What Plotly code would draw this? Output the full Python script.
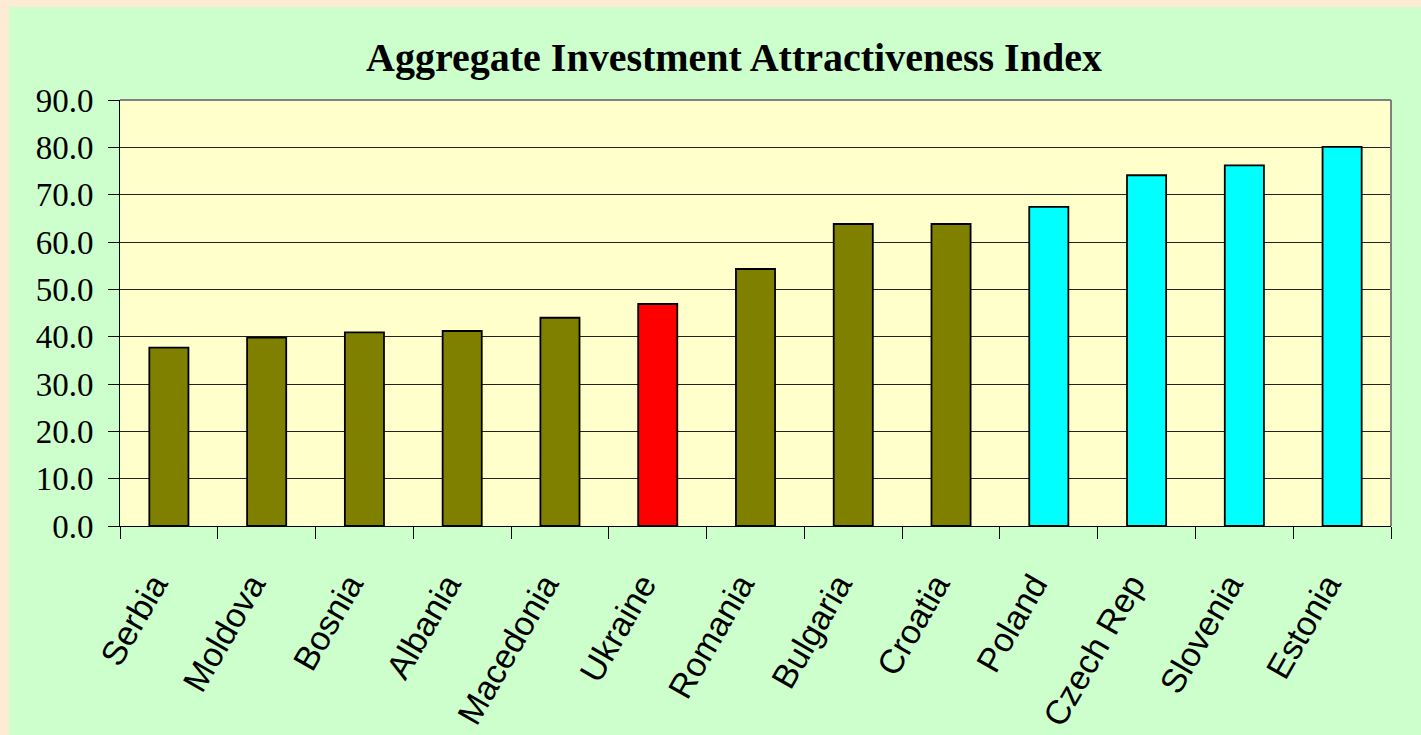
import plotly.graph_objects as go

countries = ["Serbia", "Moldova", "Bosnia", "Albania", "Macedonia", "Ukraine",
             "Romania", "Bulgaria", "Croatia", "Poland", "Czech Rep", "Slovenia", "Estonia"]
index_values = [37.7, 39.8, 40.9, 41.2, 44.0, 46.9, 54.3, 63.8, 63.8, 67.4, 74.1, 76.2, 80.1]
bar_colors = ["#808000"] * 5 + ["#FF0000"] + ["#808000"] * 3 + ["#00FFFF"] * 4
y_ticks = [0, 10, 20, 30, 40, 50, 60, 70, 80, 90]
y_tick_labels = [f"{v:.1f}" for v in y_ticks]
title_text = "Aggregate Investment Attractiveness Index"

W, H = 1421, 735
L, R, T, B = 120, 30, 100, 209
pw, ph = W - L - R, H - T - B

def px_x(p):
    return (p - L) / pw

def px_y(p):
    return (H - B - p) / ph

fig = go.Figure(go.Bar(
    x=countries, y=index_values,
    marker=dict(color=bar_colors, line=dict(color="black", width=1.8)),
    width=0.4,
))

shapes = [
    dict(type="rect", xref="paper", yref="paper", x0=px_x(9), x1=px_x(W + 5),
         y0=px_y(H + 5), y1=px_y(7), fillcolor="#CCFFCC", line=dict(width=0), layer="below"),
    dict(type="rect", xref="paper", yref="paper", x0=0, x1=1, y0=0, y1=1,
         fillcolor="#FFFFCC", line=dict(width=0), layer="below"),
    dict(type="line", xref="paper", yref="paper", x0=0, x1=1, y0=1, y1=1,
         line=dict(color="#808080", width=2), layer="above"),
    dict(type="line", xref="paper", yref="paper", x0=1, x1=1, y0=0, y1=1,
         line=dict(color="#808080", width=2), layer="above"),
]

fig.update_layout(
    width=W, height=H, autosize=False,
    margin=dict(l=L, r=R, t=T, b=B, pad=0, autoexpand=False),
    paper_bgcolor="#FDEBD5",
    plot_bgcolor="#FFFFCC",
    shapes=shapes,
    showlegend=False,
    title=dict(text=f"<b>{title_text}</b>", x=734 / W, xanchor="center",
               y=1 - 57 / H, yanchor="middle", yref="container",
               font=dict(family="Liberation Serif, Times New Roman, serif", size=40, color="black")),
    bargap=0.6,
)

fig.update_xaxes(
    type="category", tickangle=-60, automargin=False,
    tickfont=dict(family="Liberation Sans, Arial, sans-serif", size=34, color="black"),
    ticks="outside", ticklen=12, tickcolor="black", tickwidth=1, tickson="boundaries",
    showline=True, linecolor="black", linewidth=1,
    showgrid=False, ticklabelstandoff=24, ticklabelshift=-15,
)
fig.update_yaxes(
    range=[0, 90], tickvals=y_ticks, ticktext=y_tick_labels, automargin=False,
    tickfont=dict(family="Liberation Serif, Times New Roman, serif", size=33, color="black"),
    ticks="outside", ticklen=11, tickcolor="black", tickwidth=1,
    showline=True, linecolor="black", linewidth=1,
    showgrid=True, gridcolor="#222222", gridwidth=1, zeroline=False,
    ticklabelstandoff=8,
)

fig.write_html(
    "out.html",
    config={"displayModeBar": False},
    post_script="document.body.style.margin='0';document.body.style.overflow='hidden';",
)
